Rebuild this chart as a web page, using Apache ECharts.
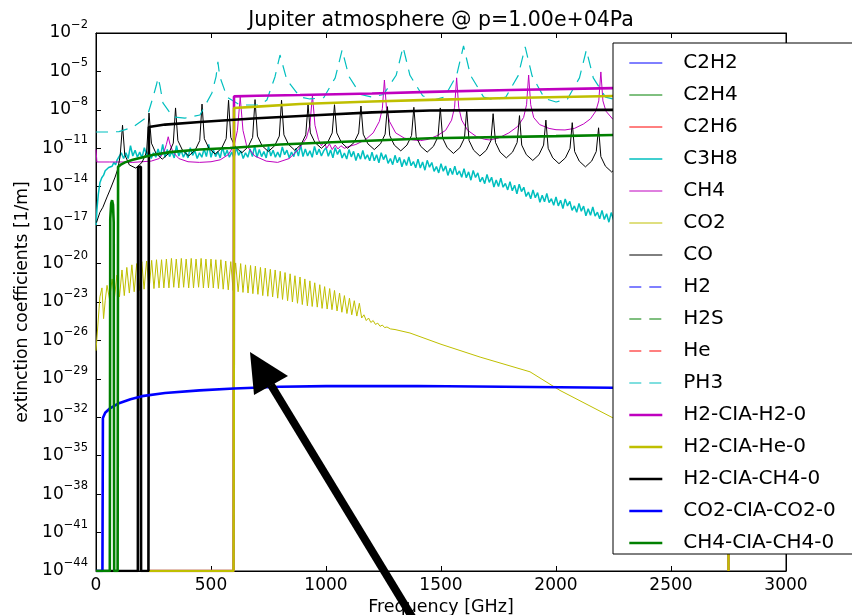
<!DOCTYPE html>
<html>
<head>
<meta charset="utf-8">
<script src="https://cdn.jsdelivr.net/npm/echarts@6.0.0/dist/echarts.min.js"></script>
<style>
  html, body { margin: 0; padding: 0; background: #fff; }
  #chart { width: 852px; height: 615px; }
</style>
</head>
<body>
<div id="chart"></div>
<script>
// Extinction spectra, Jupiter atmosphere at 1e4 Pa.
// Every series is [frequency in GHz, log10(extinction in 1/m)].
// -44 marks a zero coefficient (pinned to the bottom of the plot).

const speciesNames = ['C2H2', 'C2H4', 'C2H6', 'C3H8', 'CH4', 'CO2', 'CO', 'H2', 'H2S', 'He', 'PH3',
  'H2-CIA-H2-0', 'H2-CIA-He-0', 'H2-CIA-CH4-0', 'CO2-CIA-CO2-0', 'CH4-CIA-CH4-0'];

const xTicks = [0, 500, 1000, 1500, 2000, 2500, 3000];
const yExponentTicks = [-44, -41, -38, -35, -32, -29, -26, -23, -20, -17, -14, -11, -8, -5, -2];

const c2h2 = [];
const c2h4 = [];
const c2h6 = [];
const h2 = [];
const h2s = [];
const he = [];

const c3h8 = [
  [1,-17.0],[4,-15.8],[10,-14.6],[17,-13.7],[25,-13.3],[33,-13.1],[40,-12.75],[48,-12.8],[55,-12.5],[62,-12.6],
  [70,-12.4],[78,-12.1],[85,-12.3],[92,-11.9],[100,-12.0],
  [110,-11.35],[120,-11.8],[130,-11.35],[140,-11.8],[150,-10.8],[160,-11.6],[170,-11.15],[180,-11.7],[190,-11.3],
  [200,-11.75],[210,-10.95],[220,-11.55],[230,-11.2],[240,-11.8],[250,-11.35],[260,-11.7],[270,-11.05],[280,-11.65],
  [290,-10.7],[300,-11.7],[310,-11.1],[320,-11.65],[330,-11.25],[340,-11.75],[350,-10.8],[360,-11.6],[370,-11.15],
  [380,-11.7],[390,-11.3],[400,-11.75],[410,-10.95],[420,-11.55],[430,-11.2],[440,-11.8],[450,-11.35],[460,-11.7],
  [470,-11.05],[480,-11.65],[490,-10.7],[500,-11.7],[510,-11.1],[520,-11.65],[530,-11.25],[540,-11.75],[550,-10.9],
  [560,-11.6],[570,-11.15],[580,-11.7],[590,-11.3],[600,-11.75],[610,-10.95],[620,-11.55],[630,-11.2],[640,-11.8],
  [650,-11.35],[660,-11.7],[670,-11.05],[680,-11.65],[690,-10.8],[700,-11.7],[710,-11.1],[720,-11.65],[730,-11.25],
  [740,-11.75],[750,-10.85],[760,-11.6],[770,-11.15],[780,-11.7],[790,-11.3],[800,-11.7],[810,-10.9],[820,-11.5],
  [830,-11.15],[840,-11.75],[850,-11.3],[860,-11.65],[870,-11.0],[880,-11.6],[890,-10.75],[900,-11.65],[910,-11.05],
  [920,-11.6],[930,-11.2],[940,-11.7],[950,-10.85],[960,-11.5],[970,-11.05],[980,-11.6],[990,-11.2],
  [1000,-10.95],[1010,-11.62],[1020,-11.13],[1030,-11.75],[1040,-10.96],[1050,-11.48],[1060,-11.09],[1070,-11.76],
  [1080,-11.37],[1090,-11.84],[1100,-11.1],[1110,-11.67],[1120,-11.24],[1130,-11.96],[1140,-11.38],[1150,-11.85],
  [1160,-11.17],[1170,-11.84],[1180,-11.51],[1190,-11.98],[1200,-11.3],[1210,-11.98],[1220,-11.5],[1230,-12.13],
  [1240,-11.35],[1250,-11.88],[1260,-11.5],[1270,-12.18],[1280,-11.8],[1290,-12.28],[1300,-11.55],[1310,-12.13],
  [1320,-11.71],[1330,-12.44],[1340,-11.87],[1350,-12.35],[1360,-11.68],[1370,-12.36],[1380,-12.04],[1390,-12.52],
  [1400,-11.85],[1410,-12.54],[1420,-12.07],[1430,-12.71],[1440,-11.94],[1450,-12.48],[1460,-12.11],[1470,-12.8],
  [1480,-12.43],[1490,-12.92],[1500,-12.2],[1510,-12.79],[1520,-12.38],[1530,-13.12],[1540,-12.56],[1550,-13.05],
  [1560,-12.39],[1570,-13.08],[1580,-12.77],[1590,-13.26],[1600,-12.6],[1610,-13.3],[1620,-12.84],[1630,-13.49],
  [1640,-12.73],[1650,-13.28],[1660,-12.92],[1670,-13.62],[1680,-13.26],[1690,-13.76],[1700,-13.05],[1710,-13.66],
  [1720,-13.26],[1730,-14.02],[1740,-13.47],[1750,-13.98],[1760,-13.33],[1770,-14.04],[1780,-13.74],[1790,-14.25],
  [1800,-13.6],[1810,-14.32],[1820,-13.88],[1830,-14.55],[1840,-13.81],[1850,-14.38],[1860,-14.04],[1870,-14.76],
  [1880,-14.42],[1890,-14.94],[1900,-14.25],[1910,-14.86],[1920,-14.46],[1930,-15.22],[1940,-14.67],[1950,-15.18],
  [1960,-14.53],[1970,-15.24],[1980,-14.94],[1990,-15.45],[2000,-14.8],[2010,-15.5],[2020,-15.05],[2030,-15.7],
  [2040,-14.95],[2050,-15.5],[2060,-15.15],[2070,-15.85],[2080,-15.5],[2090,-16.0],[2100,-15.3],[2110,-15.91],
  [2120,-15.51],[2130,-16.27],[2140,-15.72],[2150,-16.23],[2160,-15.58],[2170,-16.29],[2180,-15.99],[2190,-16.5],
  [2200,-15.85],[2210,-16.56],[2220,-16.11],[2230,-16.77],[2240,-16.02],[2250,-16.58],[2260,-16.23],[2270,-16.94],
  [2280,-16.59],[2290,-17.1],[2300,-16.4],[2310,-17.15]
];

const ch4 = [
  [0,-11.1],[4,-12.07],[60,-12.07],[120,-12.07],[160,-12.1],[200,-12.05],[240,-12.0],[275,-11.8],[295,-11.3],
  [306,-10.7],[314,-10.1],[322,-10.7],[335,-11.3],[360,-11.8],[400,-12.05],[450,-12.1],[500,-12.05],[540,-11.9],
  [575,-11.5],[600,-10.8],[615,-9.6],[627,-7.0],[639,-9.6],[655,-10.8],[690,-11.6],[740,-12.0],[790,-12.1],
  [840,-11.8],[880,-11.1],[915,-10.2],[930,-9.2],[941,-6.85],[952,-9.2],[967,-10.3],[980,-10.8],[992,-10.5],
  [1003,-11.0],[1015,-10.65],[1027,-11.1],[1040,-10.75],[1052,-11.05],[1065,-10.8],[1080,-11.0],[1100,-10.85],
  [1130,-10.7],[1170,-10.35],[1205,-9.8],[1232,-8.9],[1245,-7.9],[1254,-5.67],[1263,-7.9],[1276,-8.9],
  [1303,-9.8],[1340,-10.2],[1380,-10.35],[1411,-10.4],[1445,-10.3],[1485,-10.0],[1520,-9.6],[1546,-8.8],
  [1559,-7.8],[1568,-5.5],[1577,-7.8],[1590,-8.8],[1616,-9.6],[1655,-10.1],[1690,-10.3],[1713,-10.35],
  [1750,-10.2],[1795,-9.8],[1833,-9.3],[1859,-8.6],[1872,-7.6],[1881,-5.28],[1890,-7.6],[1903,-8.6],
  [1929,-9.15],[1970,-9.45],[2000,-9.55],[2039,-9.57],[2080,-9.45],[2120,-9.1],[2150,-8.7],[2173,-8.1],
  [2186,-7.3],[2195,-5.04],[2204,-7.3],[2217,-8.1],[2248,-8.75],[2290,-9.1],[2330,-9.25]
];

const co2 = [
  [0,-26.8],[17,-22.6],[26,-21.9],[33,-24.3],[40,-22.9],
  [48,-21.7],[59,-22.8],[70,-21.2],[80,-22.7],[91,-20.9],[102,-22.6],[113,-20.5],[123,-22.5],[134,-20.3],
  [145,-22.3],[156,-20.1],[166,-22.2],[177,-20.0],[188,-22.1],[199,-19.85],[209,-22.0],[220,-19.8],[231,-22.0],
  [242,-19.75],[252,-21.95],[263,-19.7],[274,-21.9],[285,-19.7],[295,-21.9],[306,-19.65],[317,-21.9],[328,-19.6],
  [338,-21.85],[349,-19.65],[360,-21.9],[371,-19.6],[381,-21.85],[392,-19.65],[403,-21.9],[414,-19.6],[424,-21.9],
  [435,-19.65],[446,-21.85],[457,-19.6],[467,-21.9],[478,-19.65],[489,-21.9],[500,-19.65],[510,-21.9],[521,-19.7],
  [532,-21.95],[543,-19.7],[553,-22.0],[564,-19.8],[575,-22.05],[586,-19.85],[596,-22.1],[607,-19.95],[618,-22.2],
  [629,-20.0],[639,-22.25],[650,-20.1],[661,-22.3],[672,-20.15],[682,-22.35],[693,-20.2],[704,-22.4],[715,-20.3],
  [725,-22.5],[736,-20.35],[747,-22.55],[758,-20.45],[768,-22.6],[779,-20.5],[790,-22.7],[801,-20.6],[811,-22.8],
  [822,-20.7],[833,-22.9],[844,-20.8],[854,-23.0],[865,-20.95],[876,-23.1],[887,-21.05],[897,-23.2],[908,-21.2],
  [919,-23.3],[930,-21.35],[940,-23.35],[951,-21.5],[962,-23.4],[973,-21.65],[983,-23.5],[994,-21.8],[1005,-23.55],
  [1016,-21.95],[1026,-23.6],[1037,-22.1],[1048,-23.7],[1059,-22.3],[1069,-23.8],[1080,-22.5],[1091,-23.9],
  [1102,-22.7],[1112,-24.0],[1123,-22.9],[1134,-24.1],[1145,-23.1],[1155,-24.25],
  [1165,-24.0],[1175,-24.45],[1185,-24.25],[1195,-24.6],[1205,-24.45],[1215,-24.75],[1225,-24.65],[1235,-24.9],
  [1245,-24.8],[1255,-25.0],[1265,-24.95],[1280,-25.1],[1300,-25.15],[1365,-25.42],[1500,-26.3],[1670,-27.3],
  [1887,-28.45],[2017,-29.9],[2248,-32.05],[2400,-33.6]
];

const co = [
  [2,-16.8],[17,-16.0],[30,-15.6],[48,-14.8],[61,-14.25],[83,-13.25],[95,-12.6],[105,-11.6],
  [115.3,-9.2],[125,-11.5],[145,-12.3],[173,-12.55],
  [200,-12.1],[220,-11.3],[230.5,-8.25],[241,-10.6],[261,-11.4],[288,-11.85],
  [316,-11.4],[336,-10.6],[345.8,-7.85],[356,-10.4],[376,-11.15],[403,-11.6],
  [431,-11.15],[451,-10.4],[461,-7.55],[471,-10.25],[491,-11.0],[518,-11.45],
  [546,-11.0],[566,-10.25],[576.3,-7.25],[586,-10.15],[606,-10.9],[634,-11.35],
  [661,-10.9],[681,-10.15],[691.5,-7.2],[702,-10.05],[722,-10.8],[749,-11.25],
  [777,-10.8],[797,-10.05],[806.7,-7.25],[817,-9.95],[837,-10.7],[864,-11.15],
  [892,-10.7],[912,-9.95],[921.9,-7.6],[932,-9.8],[952,-10.55],[980,-11.0],
  [1007,-10.55],[1027,-9.8],[1036.9,-7.6],[1047,-9.8],[1067,-10.55],[1094,-11.0],
  [1122,-10.55],[1142,-9.8],[1152,-7.7],[1162,-9.9],[1182,-10.65],[1210,-11.1],
  [1237,-10.65],[1257,-9.9],[1267,-7.75],[1277,-10.0],[1297,-10.75],[1325,-11.2],
  [1352,-10.75],[1372,-10.0],[1382,-7.8],[1392,-10.1],[1412,-10.85],[1440,-11.3],
  [1467,-10.85],[1487,-10.1],[1496.9,-7.85],[1507,-10.2],[1527,-10.95],[1554,-11.4],
  [1582,-10.95],[1602,-10.2],[1611.8,-8.0],[1622,-10.4],[1642,-11.15],[1669,-11.6],
  [1697,-11.15],[1717,-10.4],[1726.6,-8.3],[1737,-10.55],[1757,-11.3],[1784,-11.75],
  [1811,-11.3],[1831,-10.55],[1841.3,-8.45],[1851,-10.75],[1871,-11.5],[1899,-11.95],
  [1926,-11.5],[1946,-10.75],[1956,-8.8],[1966,-11.0],[1986,-11.75],[2013,-12.2],
  [2041,-11.75],[2061,-11.0],[2070.6,-9.0],[2081,-11.25],[2101,-12.0],[2128,-12.45],
  [2155,-12.0],[2175,-11.25],[2185.1,-9.4],[2195,-11.65],[2215,-12.4],[2242,-12.85],
  [2270,-12.4],[2290,-11.65],[2299.6,-9.6],[2310,-11.8],[2330,-12.55],[2357,-13.0]
];

const ph3 = [
  [0,-9.73],[60,-9.73],[100,-9.7],[161,-9.34],[222,-8.56],[248,-7.0],[262,-6.1],[270,-5.51],[278,-6.1],
  [291,-7.46],[335,-8.56],[387,-8.64],[452,-8.4],[504,-6.68],[522,-5.4],[530,-4.26],[538,-5.4],[570,-7.0],
  [626,-7.62],[713,-7.62],[743,-7.23],[778,-5.43],[800,-3.72],[830,-5.67],[887,-7.0],[930,-7.15],[990,-7.05],
  [1040,-5.5],[1070,-3.33],[1100,-5.4],[1150,-6.8],[1200,-7.0],[1250,-6.8],[1305,-5.3],[1335,-3.09],
  [1365,-5.3],[1420,-6.9],[1467,-7.23],[1515,-7.0],[1568,-5.3],[1598,-3.01],[1628,-5.3],[1685,-7.0],
  [1734,-7.23],[1782,-7.0],[1835,-5.35],[1866,-3.09],[1896,-5.35],[1950,-7.1],[2000,-7.39],[2050,-7.15],
  [2102,-5.5],[2132,-3.33],[2162,-5.5],[2215,-7.0],[2260,-7.2],[2320,-7.0],[2370,-5.6],[2400,-3.5]
];

const ciaH2H2 = [
  [230,-44],[598,-44],[600,-6.95],[700,-6.9],[887,-6.84],[1200,-6.72],[1452,-6.6],[1800,-6.45],
  [2248,-6.3],[2500,-6.22],[2749,-6.16],[2750,-44]
];

const ciaH2He = [
  [230,-44],[598,-44],[600,-7.85],[700,-7.75],[887,-7.54],[1200,-7.35],[1452,-7.22],[1800,-7.08],
  [2248,-6.92],[2500,-6.85],[2749,-6.8],[2750,-44]
];

const ciaH2CH4 = [
  [0,-44],[182,-44],[183,-12.45],[195,-12.45],[196,-44],[228,-44],[230,-9.34],[300,-9.15],[452,-8.95],
  [700,-8.65],[974,-8.4],[1200,-8.2],[1452,-8.05],[1800,-8.02],[2248,-8.0],[2500,-7.99]
];

const ciaCO2CO2 = [
  [0,-44],[28,-44],[30,-32.05],[40,-31.65],[61,-31.3],[100,-30.9],[150,-30.6],[200,-30.35],[300,-30.1],
  [450,-29.9],[600,-29.75],[800,-29.62],[1000,-29.57],[1400,-29.56],[1900,-29.63],[2248,-29.7],[2500,-29.75]
];

const ciaCH4CH4 = [
  [0,-44],[60,-44],[62,-16.5],[66,-15.3],[70,-15.05],[74,-15.4],[77,-16.8],[79,-44],[94,-44],[96,-12.45],
  [110,-12.25],[126,-12.1],[160,-11.9],[191,-11.75],[250,-11.5],[322,-11.3],[450,-11.1],[583,-10.98],
  [800,-10.7],[1000,-10.55],[1452,-10.22],[2000,-10.05],[2248,-9.96],[2500,-9.9]
];

const seriesData = [c2h2, c2h4, c2h6, c3h8, ch4, co2, co, h2, h2s, he, ph3,
  ciaH2H2, ciaH2He, ciaH2CH4, ciaCO2CO2, ciaCH4CH4];

// Line styles (classic matplotlib colour cycle)
const styles = [
  { color: '#0000ff', width: 1 },
  { color: '#008000', width: 1 },
  { color: '#ff0000', width: 1 },
  { color: '#00bfbf', width: 1.5 },
  { color: '#bf00bf', width: 1 },
  { color: '#bfbf00', width: 1 },
  { color: '#000000', width: 1 },
  { color: '#0000ff', width: 1.2, dash: true },
  { color: '#008000', width: 1.2, dash: true },
  { color: '#ff0000', width: 1.2, dash: true },
  { color: '#00bfbf', width: 1.2, dash: true },
  { color: '#bf00bf', width: 2.6 },
  { color: '#bfbf00', width: 2.6 },
  { color: '#000000', width: 2.6 },
  { color: '#0000ff', width: 2.6 },
  { color: '#008000', width: 2.6 }
];

const FONT = 'DejaVu Sans';
const xMin = xTicks[0], xMax = xTicks[xTicks.length - 1];
const xStep = xTicks[1] - xTicks[0];
const yMin = yExponentTicks[0], yMax = yExponentTicks[yExponentTicks.length - 1];
const yStep = yExponentTicks[1] - yExponentTicks[0];

const series = speciesNames.map((name, i) => ({
  name,
  type: 'line',
  data: seriesData[i],
  symbol: 'none',
  showSymbol: false,
  silent: true,
  animation: false,
  clip: true,
  color: styles[i].color,
  lineStyle: {
    color: styles[i].color,
    width: styles[i].width,
    type: styles[i].dash ? [12, 8] : 'solid'
  },
  itemStyle: { color: styles[i].color },
  emphasis: { disabled: true }
}));

const expLabel = v => '{b|10}{s|' + (v < 0 ? '\u2212' + Math.abs(v) : String(v)) + '}';

const baseX = {
  type: 'value', min: xMin, max: xMax, interval: xStep,
  axisLine: { show: true, onZero: false, lineStyle: { color: '#000', width: 1 } },
  axisTick: { show: true, inside: true, length: 5, lineStyle: { color: '#000', width: 1 } },
  splitLine: { show: false }
};
const baseY = {
  type: 'value', min: yMin, max: yMax, interval: yStep,
  axisLine: { show: true, onZero: false, lineStyle: { color: '#000', width: 1 } },
  axisTick: { show: true, inside: true, length: 5, lineStyle: { color: '#000', width: 1 } },
  splitLine: { show: false }
};

const chart = echarts.init(document.getElementById('chart'), null, { renderer: 'canvas' });
chart.setOption({
  backgroundColor: '#fff',
  animation: false,
  title: {
    text: 'Jupiter atmosphere @ p=1.00e+04Pa',
    left: 441, top: 10.5, textAlign: 'center', padding: 0,
    textStyle: { fontFamily: FONT, fontSize: 20.5, fontWeight: 'normal', color: '#000' }
  },
  grid: {
    left: 96, right: 66, top: 33, bottom: 44,
    containLabel: false, outerBoundsMode: 'none',
    show: true, borderColor: '#000', borderWidth: 1, backgroundColor: 'transparent'
  },
  xAxis: [
    Object.assign({}, baseX, {
      position: 'bottom',
      name: 'Frequency [GHz]', nameLocation: 'middle', nameGap: 26,
      nameTextStyle: { fontFamily: FONT, fontSize: 17.5, color: '#000' },
      axisLabel: { show: true, margin: 6, fontFamily: FONT, fontSize: 17, color: '#000', formatter: v => String(v) }
    }),
    Object.assign({}, baseX, { position: 'top', axisLabel: { show: false } })
  ],
  yAxis: [
    Object.assign({}, baseY, {
      position: 'left',
      name: 'extinction coefficients [1/m]', nameLocation: 'middle', nameGap: 54, nameRotate: 90,
      nameTextStyle: { fontFamily: FONT, fontSize: 17.2, color: '#000' },
      axisLabel: {
        show: true, margin: 8, formatter: expLabel,
        rich: {
          b: { fontFamily: FONT, fontSize: 17, lineHeight: 28, color: '#000' },
          s: { fontFamily: FONT, fontSize: 11.5, lineHeight: 12, verticalAlign: 'top', color: '#000' }
        }
      }
    }),
    Object.assign({}, baseY, { position: 'right', axisLabel: { show: false } })
  ],
  legend: {
    orient: 'vertical',
    left: 613, top: 43,
    itemWidth: 33, itemHeight: 14, itemGap: 12,
    padding: [10, 200, 1, 15],
    backgroundColor: '#fff', borderColor: '#000', borderWidth: 1, borderRadius: 0,
    selectedMode: false,
    itemStyle: { opacity: 0 },
    lineStyle: { width: 'inherit', type: 'inherit', color: 'inherit' },
    textStyle: { fontFamily: FONT, fontSize: 20, color: '#000', padding: [0, 0, 0, 16] }
  },
  graphic: [
    { type: 'line', z: 100, silent: true,
      shape: { x1: 271, y1: 385, x2: 420, y2: 630 },
      style: { stroke: '#000', lineWidth: 8 } },
    { type: 'polygon', z: 100, silent: true,
      shape: { points: [[250, 352], [288, 376], [254, 395]] },
      style: { fill: '#000' } }
  ],
  series
});
</script>
</body>
</html>
